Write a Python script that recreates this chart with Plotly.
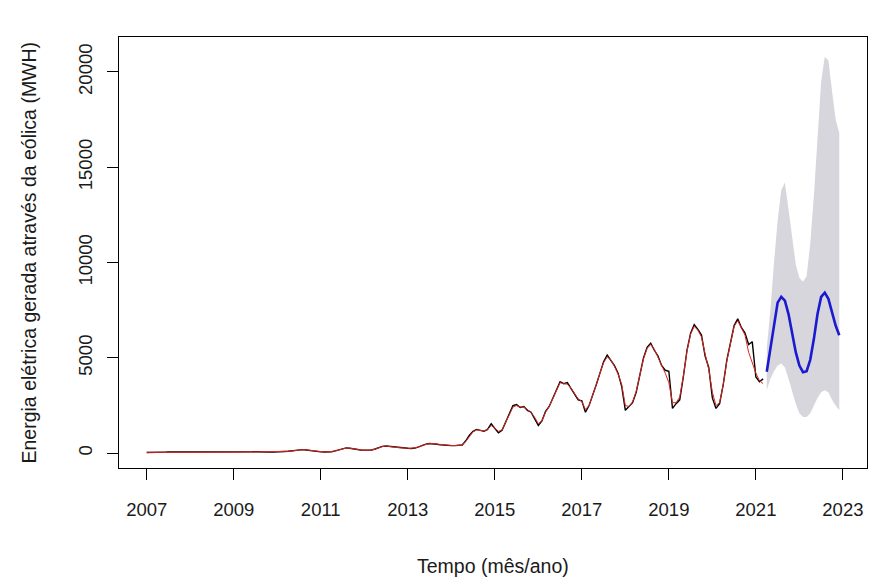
import plotly.graph_objects as go

# ---- data ----
start_year = 2007
observed = [
    40, 35, 40, 45, 50, 55, 60, 60, 55, 50, 45, 40,
    45, 45, 50, 55, 60, 65, 70, 75, 70, 65, 60, 55,
    55, 50, 55, 60, 70, 75, 80, 85, 80, 70, 65, 60,
    80, 80, 90, 100, 120, 150, 180, 190, 170, 140, 110, 90,
    70, 60, 60, 80, 120, 180, 250, 280, 260, 220, 180, 170,
    160, 150, 170, 220, 300, 360, 380, 360, 320, 290, 270, 260,
    260, 250, 270, 330, 420, 480, 510, 500, 470, 440, 420, 410,
    400, 400, 410, 430, 650, 950, 1150, 1250, 1200, 1150, 1250, 1550,
    1300, 1070, 1200, 1650, 2100, 2500, 2550, 2400, 2450, 2250, 2150, 1800,
    1450, 1700, 2200, 2450, 2900, 3400, 3750, 3650, 3700, 3400, 3100, 2800,
    2750, 2150, 2500, 3000, 3600, 4200, 4800, 5150, 4900, 4600, 4200, 3500,
    2250, 2450, 2650, 3200, 4100, 5000, 5550, 5770, 5400, 5100, 4600, 4350,
    4300, 2350, 2600, 2800, 4000, 5400, 6300, 6750, 6500, 6200, 5100, 4500,
    2900, 2350, 2600, 3600, 4900, 5900, 6700, 7050, 6600, 6300, 5700, 5850,
    4000, 3750, 3900,
]
fitted = [
    45, 42, 42, 45, 50, 55, 58, 60, 57, 52, 47, 43,
    45, 46, 50, 55, 60, 65, 70, 72, 70, 66, 61, 57,
    56, 53, 55, 60, 68, 75, 80, 83, 80, 72, 66, 62,
    75, 80, 88, 100, 118, 145, 172, 185, 172, 145, 115, 95,
    78, 66, 64, 80, 115, 170, 235, 270, 262, 228, 190, 172,
    162, 155, 170, 215, 290, 350, 375, 362, 328, 296, 275, 264,
    262, 255, 272, 325, 410, 470, 505, 498, 472, 445, 425, 412,
    405, 402, 410, 430, 620, 900, 1120, 1220, 1200, 1170, 1240, 1450,
    1320, 1150, 1220, 1600, 2050, 2420, 2500, 2420, 2420, 2280, 2150, 1880,
    1550, 1700, 2150, 2450, 2880, 3350, 3700, 3650, 3620, 3420, 3120, 2850,
    2700, 2300, 2500, 3000, 3600, 4200, 4750, 5050, 4900, 4550, 4150, 3600,
    2500, 2450, 2700, 3250, 4100, 4950, 5500, 5700, 5450, 5050, 4650, 4200,
    3700, 2650, 2650, 2950, 4050, 5350, 6250, 6650, 6450, 6100, 5200, 4400,
    3200, 2500, 2650, 3600, 4850, 5850, 6650, 6950, 6600, 6200, 5300, 4700,
    4200, 3800, 3650,
]
forecast_mean = [4270, 5500, 6900, 7900, 8200, 8000, 7300, 6300, 5300,
                 4600, 4250, 4300, 4900, 6000, 7300, 8200, 8420, 8100,
                 7400, 6700, 6190]
forecast_lower = [3300, 3900, 4300, 4600, 4700, 4500, 3900, 3200, 2600,
                  2100, 1900, 1900, 2100, 2500, 2900, 3200, 3300, 3200,
                  2800, 2500, 2250]
forecast_upper = [5500, 7500, 10000, 12200, 13800, 14200, 12800, 11200, 9900,
                  9200, 9000, 9300, 11000, 13500, 16500, 19500, 20800, 20600,
                  19000, 17500, 16800]
x_ticks = [2007, 2009, 2011, 2013, 2015, 2017, 2019, 2021, 2023]
y_ticks = [0, 5000, 10000, 15000, 20000]

t_obs = [start_year + i / 12 for i in range(len(observed))]
n0 = len(observed)
t_fc = [start_year + (n0 + i) / 12 for i in range(len(forecast_mean))]

FONT = "Liberation Sans, Arial, sans-serif"
TXT = "#1a1a1a"

fig = go.Figure()
fig.add_trace(go.Scatter(x=t_fc, y=forecast_lower, mode="lines",
                         line=dict(width=0, color="rgba(0,0,0,0)"),
                         showlegend=False, hoverinfo="skip"))
fig.add_trace(go.Scatter(x=t_fc, y=forecast_upper, mode="lines",
                         line=dict(width=0, color="rgba(0,0,0,0)"),
                         fill="tonexty", fillcolor="#D6D6DC",
                         showlegend=False, hoverinfo="skip"))
fig.add_trace(go.Scatter(x=t_obs, y=observed, mode="lines",
                         line=dict(color="black", width=1.4), showlegend=False))
fig.add_trace(go.Scatter(x=t_obs, y=fitted, mode="lines",
                         line=dict(color="#E0261E", width=1), showlegend=False))
fig.add_trace(go.Scatter(x=t_fc, y=forecast_mean, mode="lines",
                         line=dict(color="#1A1AD0", width=2.6), showlegend=False))

axis_common = dict(showline=True, mirror=True, linecolor="black", linewidth=1,
                   ticks="outside", ticklen=11, tickcolor="black", tickwidth=1,
                   showgrid=False, zeroline=False,
                   tickfont=dict(family=FONT, size=18.5, color=TXT))

fig.update_xaxes(range=[2006.363, 2023.554], tickmode="array", tickvals=x_ticks,
                 ticktext=[str(v) for v in x_ticks], ticklabelstandoff=14,
                 **axis_common)
fig.update_yaxes(range=[-776, 21834], tickmode="array", tickvals=y_ticks,
                 ticktext=[str(v) for v in y_ticks], tickangle=-90,
                 ticklabelstandoff=8, **axis_common)

fig.add_annotation(text="Tempo (mês/ano)", xref="paper", yref="paper",
                   x=0.5, y=0, yanchor="middle", yshift=-98, showarrow=False,
                   font=dict(family=FONT, size=19.5, color=TXT))
fig.add_annotation(text="Energia elétrica gerada através da eólica (MWH)",
                   xref="paper", yref="paper", x=0, y=0.5, xanchor="center",
                   xshift=-91, textangle=-90, showarrow=False,
                   font=dict(family=FONT, size=19.5, color=TXT))

fig.update_layout(width=870, height=581, plot_bgcolor="white",
                  paper_bgcolor="white",
                  margin=dict(l=119, r=3, t=37, b=113, autoexpand=False))

fig.write_html("out.html", config={"displayModeBar": False},
               post_script="document.body.style.margin='0';"
                           "document.body.style.overflow='hidden';")
